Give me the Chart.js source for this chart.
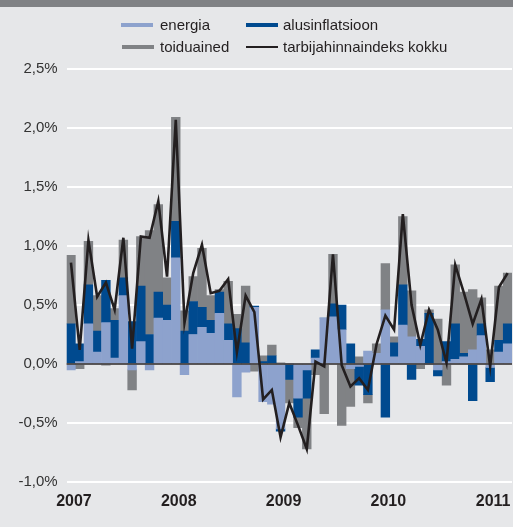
<!DOCTYPE html>
<html>
<head>
<meta charset="utf-8">
<script src="https://cdn.jsdelivr.net/npm/chart.js@4.4.1/dist/chart.umd.min.js"></script>
<style>
  body { margin: 0; background: #e6e7e9; }
  #wrap { position: relative; width: 513px; height: 527px; overflow: hidden; }
  #band { position: absolute; left: 0; top: 0; width: 513px; height: 7px; background: #808285; }
  #chart { position: absolute; left: 0; top: 0; }
  .item { position: absolute; font-family: 'Liberation Sans', Arial, sans-serif; font-size: 15px; color: #231f20; white-space: nowrap; }
  .sw { position: absolute; width: 32px; }
</style>
</head>
<body>
<div id="wrap">
  <canvas id="chart" width="513" height="527"></canvas>
  <div id="band"></div>
  <div class="sw" style="left:121px;top:23px;height:4px;background:#8da2cd"></div>
  <div class="item" style="left:160px;top:16px">energia</div>
  <div class="sw" style="left:246px;top:23px;height:4px;background:#004a8f"></div>
  <div class="item" style="left:283px;top:16px">alusinflatsioon</div>
  <div class="sw" style="left:122px;top:45px;height:4px;background:#808285"></div>
  <div class="item" style="left:160px;top:38px">toiduained</div>
  <div class="sw" style="left:246px;top:46px;height:2px;background:#231f20"></div>
  <div class="item" style="left:283px;top:38px">tarbijahinnaindeks kokku</div>
</div>
<script>
'use strict';

// monthly contributions, Jan 2007 - Mar 2011 (percentage points)
let years = ['2007', '2008', '2009', '2010', '2011'];

let energia = [
  -0.05, 0.02, 0.34, 0.10, 0.35, 0.05, 0.58, -0.05, 0.19, -0.05, 0.39, 0.37,
  0.90, -0.09, 0.25, 0.31, 0.26, 0.43, 0.20, -0.28, -0.07, 0.48, -0.32, -0.34,
  -0.55, 0.00, -0.29, -0.05, 0.05, 0.39, 0.40, 0.29, -0.04, -0.02, 0.11, 0.09,
  0.46, 0.06, 0.33, 0.23, 0.15, 0.00, -0.05, 0.02, 0.04, 0.06, 0.12, 0.24,
  -0.03, 0.10, 0.17
];
let alusinflatsioon = [
  0.34, 0.15, 0.33, 0.18, 0.36, 0.32, 0.15, 0.36, 0.47, 0.25, 0.22, 0.13,
  0.31, 0.28, 0.28, 0.17, 0.11, 0.18, 0.14, 0.30, 0.18, 0.01, 0.02, 0.07,
  -0.02, -0.13, -0.16, -0.24, 0.07, 0.00, 0.11, 0.21, 0.17, -0.16, -0.26, 0.00,
  -0.45, 0.12, 0.34, -0.13, 0.06, 0.43, -0.05, 0.17, 0.30, 0.03, -0.31, 0.10,
  -0.12, 0.10, 0.17
];
let toiduained = [
  0.58, -0.04, 0.37, 0.30, -0.01, 0.10, 0.32, -0.17, 0.42, 0.88, 0.74, 0.23,
  0.88, 0.17, 0.21, 0.50, 0.21, 0.02, 0.36, 0.12, 0.48, -0.06, 0.05, 0.09,
  0.01, -0.20, -0.09, -0.43, -0.09, -0.42, 0.42, -0.52, -0.32, 0.06, -0.07, 0.08,
  0.39, 0.05, 0.58, 0.39, -0.04, 0.03, 0.38, -0.18, 0.50, 0.52, 0.51, 0.22,
  0.12, 0.46, 0.43
];
let kokku = [
  0.86, 0.12, 1.05, 0.57, 0.69, 0.46, 1.07, 0.13, 1.08, 1.07, 1.38, 0.74,
  2.07, 0.35, 0.77, 1.01, 0.60, 0.62, 0.72, 0.10, 0.58, 0.44, -0.30, -0.22,
  -0.62, -0.33, -0.52, -0.72, 0.02, -0.02, 0.93, -0.01, -0.19, -0.12, -0.22, 0.17,
  0.41, 0.29, 1.27, 0.50, 0.16, 0.46, 0.29, 0.01, 0.84, 0.60, 0.34, 0.55,
  -0.02, 0.65, 0.77
];

let months = [];
for (let i = 0; i < kokku.length; i++) {
  months.push(years[Math.floor(i / 12)] + '-' + (i % 12 + 1));
}

const zeroLine = {
  id: 'zeroLine',
  afterDatasetsDraw(chart) {
    const ctx = chart.ctx;
    const y = chart.scales.y.getPixelForValue(0);
    ctx.save();
    ctx.strokeStyle = '#231f20';
    ctx.lineWidth = 1.5;
    ctx.beginPath();
    ctx.moveTo(chart.chartArea.left, y);
    ctx.lineTo(chart.chartArea.right, y);
    ctx.stroke();
    ctx.restore();
  }
};

const ctx = document.getElementById('chart');
new Chart(ctx, {
  data: {
    labels: months,
    datasets: [
      {
        type: 'line',
        label: 'tarbijahinnaindeks kokku',
        data: kokku,
        stack: 'cpi',
        order: 0,
        borderColor: '#231f20',
        borderWidth: 2.6,
        pointRadius: 0,
        tension: 0
      },
      {
        type: 'bar',
        label: 'energia',
        data: energia,
        stack: 'bars',
        order: 1,
        backgroundColor: '#8da2cd'
      },
      {
        type: 'bar',
        label: 'alusinflatsioon',
        data: alusinflatsioon,
        stack: 'bars',
        order: 2,
        backgroundColor: '#004a8f'
      },
      {
        type: 'bar',
        label: 'toiduained',
        data: toiduained,
        stack: 'bars',
        order: 3,
        backgroundColor: '#808285'
      }
    ]
  },
  options: {
    responsive: false,
    animation: false,
    layout: {
      padding: { top: 69, right: 1, left: 0, bottom: 0 }
    },
    datasets: {
      bar: { barPercentage: 1, categoryPercentage: 1 }
    },
    plugins: {
      legend: { display: false },
      tooltip: { enabled: false }
    },
    scales: {
      x: {
        stacked: true,
        grid: { display: false },
        border: { display: false },
        afterFit: function(scale) { scale.height = 45; },
        ticks: {
          autoSkip: false,
          maxRotation: 0,
          padding: 2,
          labelOffset: 3,
          color: '#231f20',
          font: { family: 'Liberation Sans', size: 16, weight: 'bold' },
          callback: function(value, index) {
            return index % 12 === 0 ? years[index / 12] : '';
          }
        }
      },
      y: {
        stacked: true,
        min: -1,
        max: 2.5,
        border: { display: false },
        afterFit: function(scale) { scale.width = 66.6; },
        grid: {
          color: '#ffffff',
          lineWidth: 2,
          drawTicks: false
        },
        ticks: {
          stepSize: 0.5,
          padding: 9,
          color: '#333333',
          font: { family: 'Liberation Sans', size: 15 },
          callback: function(value) {
            return value.toFixed(1).replace('.', ',') + '%';
          }
        }
      }
    }
  },
  plugins: [zeroLine]
});
</script>
</body>
</html>
